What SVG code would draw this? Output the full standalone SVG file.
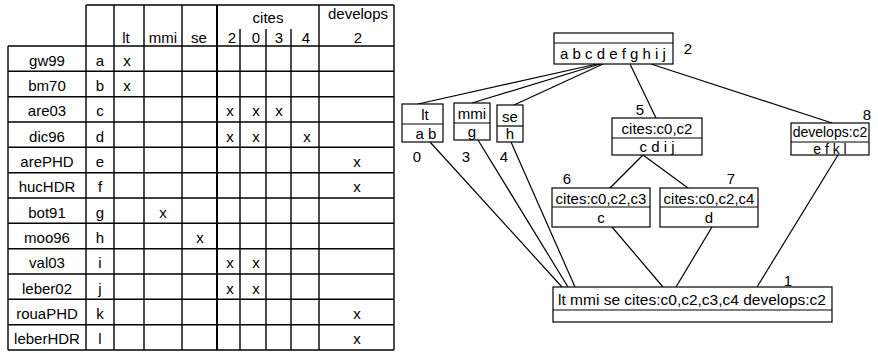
<svg xmlns="http://www.w3.org/2000/svg" width="878" height="353" viewBox="0 0 878 353">
<style>
text{font-family:"Liberation Sans",Arial,sans-serif;font-size:15px;fill:#000;text-anchor:middle}
.g line{stroke:#000;stroke-width:1.4}
.n rect{fill:#fff;stroke:#000;stroke-width:1.2}
.n line{stroke:#000;stroke-width:1.2}
.c line{stroke:#000;stroke-width:1.2}
</style>
<rect width="878" height="353" fill="#fff"/>
<g id="table" class="g">
<line x1="86" y1="5" x2="394" y2="5"/>
<line x1="8" y1="46" x2="394" y2="46"/>
<line x1="8" y1="71.3" x2="394" y2="71.3"/>
<line x1="8" y1="96.7" x2="394" y2="96.7"/>
<line x1="8" y1="122" x2="394" y2="122"/>
<line x1="8" y1="147.3" x2="394" y2="147.3"/>
<line x1="8" y1="172.7" x2="394" y2="172.7"/>
<line x1="8" y1="198" x2="394" y2="198"/>
<line x1="8" y1="223.3" x2="394" y2="223.3"/>
<line x1="8" y1="248.7" x2="394" y2="248.7"/>
<line x1="8" y1="274" x2="394" y2="274"/>
<line x1="8" y1="299.3" x2="394" y2="299.3"/>
<line x1="8" y1="324.7" x2="394" y2="324.7"/>
<line x1="8" y1="350" x2="394" y2="350"/>
<line x1="8" y1="46" x2="8" y2="350"/>
<line x1="86" y1="5" x2="86" y2="350"/>
<line x1="114" y1="5" x2="114" y2="350"/>
<line x1="144" y1="5" x2="144" y2="350"/>
<line x1="182" y1="5" x2="182" y2="350"/>
<line x1="217" y1="5" x2="217" y2="350" style="stroke-width:2"/>
<line x1="240" y1="29" x2="240" y2="350"/>
<line x1="266" y1="29" x2="266" y2="350"/>
<line x1="291" y1="29" x2="291" y2="350"/>
<line x1="319" y1="5" x2="319" y2="350"/>
<line x1="394" y1="5" x2="394" y2="350"/>
<text x="126" y="43">lt</text>
<text x="163" y="43">mmi</text>
<text x="199" y="43">se</text>
<text x="268" y="23">cites</text>
<text x="232" y="43">2</text>
<text x="256" y="43">0</text>
<text x="279" y="43">3</text>
<text x="306" y="43">4</text>
<text x="358" y="19">develops</text>
<text x="358" y="43">2</text>
<text x="47" y="65.5">gw99</text><text x="100" y="65.5">a</text><text x="127" y="65.5">x</text>
<text x="47" y="90.8">bm70</text><text x="100" y="90.8">b</text><text x="127" y="90.8">x</text>
<text x="47" y="116.2">are03</text><text x="100" y="116.2">c</text><text x="230" y="116.2">x</text><text x="256" y="116.2">x</text><text x="279" y="116.2">x</text>
<text x="47" y="141.5">dic96</text><text x="100" y="141.5">d</text><text x="230" y="141.5">x</text><text x="256" y="141.5">x</text><text x="307" y="141.5">x</text>
<text x="47" y="166.8">arePHD</text><text x="100" y="166.8">e</text><text x="357" y="166.8">x</text>
<text x="47" y="192.2">hucHDR</text><text x="100" y="192.2">f</text><text x="357" y="192.2">x</text>
<text x="47" y="217.5">bot91</text><text x="100" y="217.5">g</text><text x="163" y="217.5">x</text>
<text x="47" y="242.8">moo96</text><text x="100" y="242.8">h</text><text x="200" y="242.8">x</text>
<text x="47" y="268.2">val03</text><text x="100" y="268.2">i</text><text x="230" y="268.2">x</text><text x="256" y="268.2">x</text>
<text x="47" y="293.5">leber02</text><text x="100" y="293.5">j</text><text x="230" y="293.5">x</text><text x="256" y="293.5">x</text>
<text x="47" y="318.8">rouaPHD</text><text x="100" y="318.8">k</text><text x="357" y="318.8">x</text>
<text x="47" y="344.2">leberHDR</text><text x="100" y="344.2">l</text><text x="357" y="344.2">x</text>
</g>
<g id="connectors" class="c">
<line x1="597" y1="64" x2="418" y2="104"/>
<line x1="600" y1="64" x2="472" y2="103"/>
<line x1="603" y1="64" x2="514" y2="105"/>
<line x1="630" y1="64" x2="656" y2="118"/>
<line x1="651" y1="64" x2="832" y2="123"/>
<line x1="643" y1="155" x2="610" y2="188"/>
<line x1="643" y1="155" x2="688" y2="188"/>
<line x1="430" y1="142" x2="562" y2="287"/>
<line x1="478" y1="140" x2="568" y2="287"/>
<line x1="511" y1="142" x2="575" y2="287"/>
<line x1="612" y1="227" x2="663" y2="287"/>
<line x1="712" y1="227" x2="676" y2="287"/>
<line x1="838" y1="155" x2="757" y2="287"/>
</g>
<g id="node2" class="n">
<rect x="554" y="33" width="119" height="31"/>
<line x1="554" y1="43" x2="673" y2="43"/>
<text x="613" y="59">a b c d e f g h i j</text>
<text x="688" y="54">2</text>
</g>
<g id="node0" class="n">
<rect x="402" y="104" width="41" height="38"/>
<line x1="402" y1="124" x2="443" y2="124"/>
<text x="425" y="120">lt</text>
<text x="426" y="139">a b</text>
<text x="417" y="162">0</text>
</g>
<g id="node3" class="n">
<rect x="454" y="103" width="36" height="37"/>
<line x1="454" y1="123" x2="490" y2="123"/>
<text x="472" y="119">mmi</text>
<text x="472" y="137">g</text>
<text x="466" y="162">3</text>
</g>
<g id="node4" class="n">
<rect x="497" y="105" width="26" height="37"/>
<line x1="497" y1="126" x2="523" y2="126"/>
<text x="510" y="122">se</text>
<text x="510" y="139">h</text>
<text x="504" y="162">4</text>
</g>
<g id="node5" class="n">
<rect x="612" y="118" width="90" height="37"/>
<line x1="612" y1="138" x2="702" y2="138"/>
<text x="657" y="134">cites:c0,c2</text>
<text x="657" y="152">c d i j</text>
<text x="640" y="115">5</text>
</g>
<g id="node6" class="n">
<rect x="552" y="188" width="98" height="39"/>
<line x1="552" y1="207" x2="650" y2="207"/>
<text x="601" y="204">cites:c0,c2,c3</text>
<text x="601" y="223">c</text>
<text x="567" y="184">6</text>
</g>
<g id="node7" class="n">
<rect x="660" y="188" width="98" height="39"/>
<line x1="660" y1="207" x2="758" y2="207"/>
<text x="709" y="204">cites:c0,c2,c4</text>
<text x="709" y="223">d</text>
<text x="731" y="184">7</text>
</g>
<g id="node8" class="n">
<rect x="791" y="123" width="78" height="32"/>
<line x1="791" y1="142" x2="869" y2="142"/>
<text x="830" y="137" style="font-size:14px">develops:c2</text>
<text x="830" y="154" style="font-size:14px">e f k l</text>
<text x="867" y="120">8</text>
</g>
<g id="node1" class="n">
<rect x="553" y="287" width="279" height="35"/>
<line x1="553" y1="310" x2="832" y2="310"/>
<text x="692" y="305" style="font-size:15.5px">lt mmi se cites:c0,c2,c3,c4 develops:c2</text>
<text x="788" y="286">1</text>
</g>
</svg>
